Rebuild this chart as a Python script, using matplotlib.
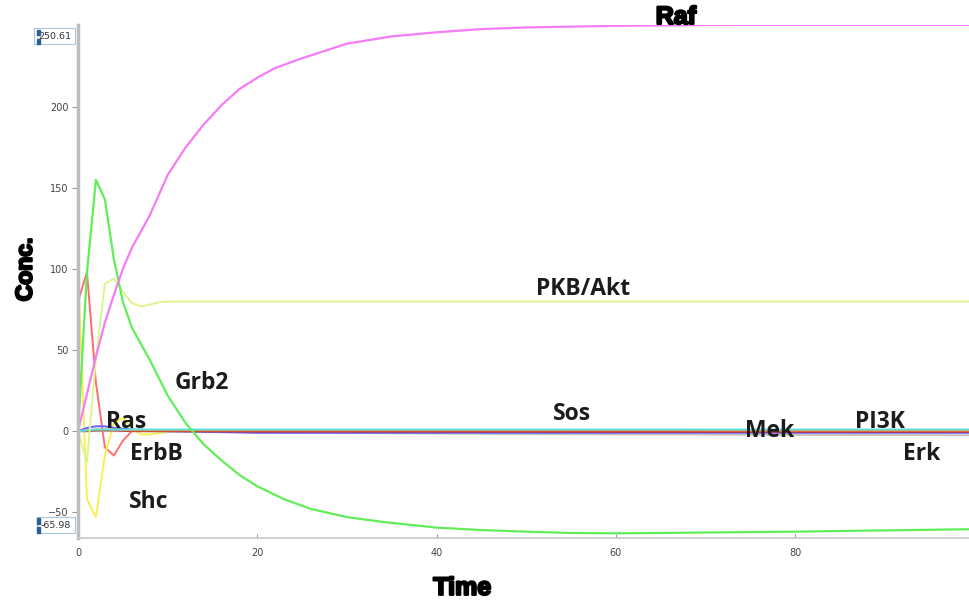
import matplotlib
matplotlib.use("Agg")
import matplotlib.pyplot as plt
import matplotlib.patheffects as pe
from matplotlib.patches import Rectangle

# simulated concentrations of the signalling species over time
t_raf = [0, 1, 2, 3, 4, 5, 6, 8, 10, 12, 14, 16, 18, 20, 22, 25, 30, 35, 40, 45, 50, 60, 70, 80, 99.4]
raf = [0, 23, 46, 67, 84, 100, 113, 133, 158, 175, 189, 201, 211, 218, 224, 230, 239, 243.5, 246, 248, 249, 250, 250.5, 250.6, 250.6]

t_grb2 = [0, 1, 2, 3, 4, 5, 6, 7, 8, 10, 12, 14, 16, 18, 20, 23, 26, 30, 34, 40, 45, 50, 55, 60, 65, 70, 80, 90, 99.4]
grb2 = [0, 98, 155, 143, 106, 80, 64, 54, 44, 22, 5, -8, -18, -27, -34, -42, -48, -53, -56, -59.5, -61, -62, -62.8, -63, -62.8, -62.5, -62, -61.2, -60.5]

t_erbb = [0, 1, 2, 3, 4, 5, 6, 7, 8, 10, 99.4]
erbb = [80, 98, 30, -10, -15, -6, 0, 1, 0.5, 0, 0]

t_shc = [0, 1, 2, 3, 4, 5, 6, 7, 8, 10, 12, 99.4]
shc = [100, -42, -53, -15, 5, 8, 2, -2, -2, -0.5, 0, 0]

t_akt = [0, 1, 2, 3, 4, 5, 6, 7, 8, 9, 10, 15, 99.4]
akt = [0, -19, 45, 91, 94, 86, 79, 77, 78, 79.5, 80, 80, 80]

t_flat = [0, 1, 2, 3, 4, 6, 10, 20, 40, 60, 80, 99.4]
ras = [0, 2, 3, 3, 2, 1, 0, -1, -1, -1, -1, -1]
sos = [0, 0.5, 1, 1, 1, 0.5, 0.5, 0.5, 0.5, 0.5, 0.3, 0.3]
mek = [0, 0, 0.5, 0.5, 0.5, 0, 0, -0.3, -0.3, -0.4, -0.4, -0.4]
pi3k = [0, 0.5, 1, 1, 1, 1, 1, 1, 1, 1, 1, 1]
erk = [0, 0, 0, 0, 0, 0, -0.3, -0.8, -1.5, -2, -2.3, -2.5]

y_min, y_max = -65.98, 250.61

fig = plt.figure(figsize=(9.69, 6.06), dpi=100)
ax = fig.add_axes([0.0805, 0.112, 0.9195, 0.847])

ax.plot(t_erbb, erbb, color="#ff6e6e", lw=1.4)
ax.plot(t_shc, shc, color="#f8f050", lw=1.4)
ax.plot(t_flat, erk, color="#c4c4c4", lw=1.4)
ax.plot(t_flat, ras, color="#6464ff", lw=1.4)
ax.plot(t_flat, mek, color="#c03030", lw=1.4)
ax.plot(t_flat, sos, color="#ff8c3c", lw=1.4)
ax.plot(t_flat, pi3k, color="#55e0e0", lw=1.4)
ax.plot(t_akt, akt, color="#dcf58c", lw=1.4)
ax.plot(t_grb2, grb2, color="#62ee58", lw=1.6)
ax.plot(t_raf, raf, color="#f57cf5", lw=1.6)

ax.set_xlim(0, 99.4)
ax.set_ylim(y_min, y_max)
ax.set_xticks([0, 20, 40, 60, 80])
ax.set_yticks([-50, 0, 50, 100, 150, 200])

for side in ["top", "right"]:
    ax.spines[side].set_visible(False)
ax.spines["left"].set_color("#bdbdbd")
ax.spines["left"].set_linewidth(2.5)
ax.spines["bottom"].set_color("#c8c8c8")
ax.spines["bottom"].set_linewidth(1.2)
ax.tick_params(axis="y", direction="out", length=4, color="#999999",
               labelsize=7, labelcolor="#444444", pad=3)
ax.tick_params(axis="x", direction="in", length=3, color="#999999",
               labelsize=7, labelcolor="#444444", pad=7)

# range boxes at both ends of the y axis
for val, va, dy in ((y_max, "top", -5), (y_min, "bottom", 6)):
    ax.annotate(f"{val:.2f}", xy=(0, val), xycoords=ax.get_yaxis_transform(),
                xytext=(-5, dy), textcoords="offset points",
                ha="right", va=va, fontsize=6.8, color="#333333", zorder=5,
                annotation_clip=False,
                bbox=dict(boxstyle="square,pad=0.38", fc="white", ec="#a9c6de", lw=0.8))
for y0 in (0.942, 0.927, 0.136, 0.121):
    fig.add_artist(Rectangle((0.0378, y0), 0.0031, 0.009, color="#2a5d9a",
                             transform=fig.transFigure, zorder=10))

heavy = [pe.withStroke(linewidth=1.6, foreground="black")]
fig.text(0.026, 0.555, "Conc.", rotation=90, ha="center", va="center",
         fontsize=16.5, fontweight="bold", family="Liberation Sans", path_effects=heavy)
fig.text(0.477, 0.03, "Time", ha="center", va="center",
         fontsize=18, fontweight="bold", family="Liberation Sans", path_effects=heavy)
ax.text(66.7, 255.5, "Raf", ha="center", va="center", fontsize=18,
        fontweight="bold", family="Liberation Sans", path_effects=heavy, clip_on=False)

species_labels = [
    ("PKB/Akt", 56.3, 87.7),
    ("Grb2", 13.8, 29.6),
    ("Ras", 5.4, 5.6),
    ("ErbB", 8.8, -14.2),
    ("Shc", 7.9, -43.8),
    ("Sos", 55.1, 10.5),
    ("Mek", 77.2, 0),
    ("PI3K", 89.5, 5.6),
    ("Erk", 94.1, -14.2),
]
for name, tx, vy in species_labels:
    ax.text(tx, vy, name, ha="center", va="center", fontsize=16.5,
            fontweight="bold", family="Open Sans", color="#1c1c1c")

fig.savefig("out.png", dpi=100, facecolor="white")
